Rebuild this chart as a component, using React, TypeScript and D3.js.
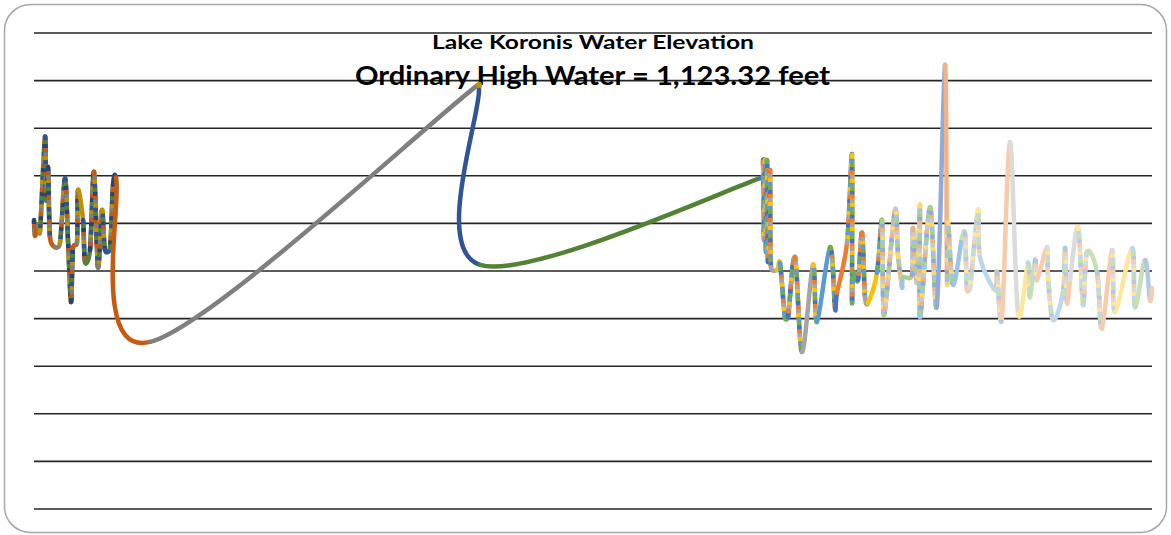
import React from "react";
import * as d3 from "d3";

// Time position (arbitrary sample axis, no labels shown in the reference)
const t = [
  0, 0.1, 0.4, 0.6, 1.1, 1.2, 1.4, 1.6, 2.1, 2.6, 3.1, 3.4, 3.7, 3.9, 4.3, 4.4, 4.9, 5.1, 5.6, 6.0, 6.4, 6.8, 7.1, 7.6, 7.9, 8.2,
  11.6, 44.4, 44.5, 44.6, 72.6,
  72.9, 73.0, 73.1, 73.2, 73.3, 73.4, 73.6, 73.7, 74.3, 74.6, 75.1, 75.4, 76.1, 76.8, 77.9, 78.3, 79.6, 80.1, 80.3, 81.3,
  81.8, 81.8, 81.9, 82.4, 82.8, 83.1, 83.4, 84.3, 84.8, 84.9, 85.1, 86.1, 86.4, 86.8, 86.9, 87.8, 87.9, 88.3, 88.6, 88.6,
  89.6, 90.3, 91.1, 91.3, 91.4, 91.9, 92.8, 93.1, 93.3, 93.6, 94.4, 94.6, 96.1, 96.3, 96.8, 97.6, 98.4, 99.4, 99.6, 100.1,
  100.3, 101.3, 101.4, 101.9, 102.9, 103.1, 103.3, 103.6, 104.4, 104.9, 105.3, 106.3, 106.8, 107.8, 108.1, 109.8, 110.1,
  111.1, 111.6, 111.8,
];

// Water elevation (feet)
const elevation = [
  1119.07, 1118.74, 1118.97, 1118.82, 1120.82, 1119.49, 1120.18, 1118.71, 1118.5, 1118.59, 1119.95, 1118.65, 1117.35,
  1118.5, 1118.59, 1119.7, 1119.07, 1118.19, 1118.44, 1120.08, 1118.08, 1119.28, 1118.44, 1118.48, 1119.81, 1119.97,
  1116.51, 1121.91, 1121.8, 1118.13, 1119.95,
  1120.29, 1118.65, 1120.33, 1118.4, 1120.33, 1118.19, 1120.12, 1118.08, 1118.02, 1118.17, 1117.01, 1117.03, 1118.29,
  1116.3, 1118.13, 1116.93, 1118.5, 1117.22, 1117.54, 1118.59, 1120.44, 1117.43, 1117.98, 1117.81, 1118.8, 1117.45,
  1117.33, 1117.96, 1119.07, 1117.54, 1117.18, 1119.28, 1118.34, 1117.66, 1117.87, 1117.92, 1118.9, 1117.75, 1119.39,
  1117.03, 1119.34, 1117.29, 1122.33, 1117.81, 1119.03, 1117.71, 1118.69, 1118.8, 1117.6, 1117.64, 1119.28, 1118.29,
  1117.6, 1117.98, 1117.03, 1120.71, 1117.12, 1118.17, 1117.45, 1118.23, 1117.81, 1118.5, 1117.87, 1116.97, 1117.54,
  1118.48, 1117.33, 1117.81, 1118.92, 1117.29, 1118.4, 1117.98, 1116.8, 1118.44, 1117.14, 1118.48, 1117.24, 1118.23,
  1117.39, 1117.64,
];

const gridValues = [1113, 1114, 1115, 1116, 1117, 1118, 1119, 1120, 1121, 1122, 1123];

const titleLine1 = "Lake Koronis Water Elevation";
const titleLine2 = "Ordinary High Water = 1,123.32 feet";

const PALETTES: Record<string, string[]> = {
  dark: ["#264478", "#C55A11", "#7F7F7F", "#BF9000", "#2F5597", "#548235"],
  base: ["#4472C4", "#ED7D31", "#A5A5A5", "#FFC000", "#5B9BD5", "#70AD47"],
  light: ["#8FAADC", "#F4B183", "#C9C9C9", "#FFD966", "#9DC3E6", "#A9D18E"],
  pale: ["#B4C7E7", "#F8CBAD", "#DBDBDB", "#FFE699", "#BDD7EE", "#C5E0B4"],
};

function generation(x: number) {
  if (x < 72.5) return "dark";
  if (x < 84.6) return "base";
  if (x < 92.0) return "light";
  return "pale";
}

const W = 1171;
const H = 535;

function clampVec(vx: number, vy: number, maxLen: number): [number, number] {
  const len = Math.hypot(vx, vy);
  if (len <= maxLen || len === 0) return [vx, vy];
  const s = maxLen / len;
  return [vx * s, vy * s];
}

export default function App() {
  const x = d3.scaleLinear().domain([0, 111.8]).range([34, 1152]);
  const y = d3.scaleLinear().domain([1113, 1123]).range([509, 33]);

  const pts = t.map((tv, i) => [x(tv), y(elevation[i])] as [number, number]);

  const segs: { d: string; color: string; stipple: string[] | null; key: number }[] = [];
  for (let i = 0; i < pts.length - 1; i++) {
    const p0 = pts[i - 1] || pts[i];
    const p1 = pts[i];
    const p2 = pts[i + 1];
    const p3 = pts[i + 2] || pts[i + 1];
    const chord = Math.hypot(p2[0] - p1[0], p2[1] - p1[1]);
    const o1 = clampVec((p2[0] - p0[0]) / 6, (p2[1] - p0[1]) / 6, chord * 0.8);
    const o2 = clampVec((p3[0] - p1[0]) / 6, (p3[1] - p1[1]) / 6, chord * 0.8);
    const path = d3.path();
    path.moveTo(p1[0], p1[1]);
    path.bezierCurveTo(p1[0] + o1[0], p1[1] + o1[1], p2[0] - o2[0], p2[1] - o2[1], p2[0], p2[1]);
    const pal = PALETTES[generation(t[i])];
    const dx = Math.abs(p2[0] - p1[0]);
    const dy = Math.abs(p2[1] - p1[1]);
    const steep = dy > 8 * dx && dy > 15 && dy < 150;
    const rot = i % 6;
    segs.push({
      d: path.toString(),
      color: pal[i % 6],
      stipple: steep ? pal.slice(rot).concat(pal.slice(0, rot)) : null,
      key: i,
    });
  }

  const dash = 4;
  const period = dash * 6;

  return (
    <svg
      width={W}
      height={H}
      style={{ position: "absolute", left: 0, top: 0, background: "#fff" }}
      xmlns="http://www.w3.org/2000/svg"
    >
      <rect x={4.5} y={4.5} width={1162} height={528} rx={26} ry={26} fill="#fff" stroke="#A6A6A6" strokeWidth={1.5} />
      {gridValues.map((g) => (
        <line key={g} x1={34} x2={1152} y1={y(g)} y2={y(g)} stroke="#262626" strokeWidth={1.6} />
      ))}
      <text
        x={593}
        y={49}
        textAnchor="middle"
        fontFamily="Lato, 'Open Sans', sans-serif"
        fontWeight="bold"
        fontSize={19}
        textLength={322}
        lengthAdjust="spacingAndGlyphs"
        fill="#000"
      >
        {titleLine1}
      </text>
      <text
        x={592.5}
        y={85}
        textAnchor="middle"
        fontFamily="Lato, 'Open Sans', sans-serif"
        fontWeight="bold"
        fontSize={26}
        textLength={475}
        lengthAdjust="spacingAndGlyphs"
        fill="#000"
      >
        {titleLine2}
      </text>
      <g fill="none" strokeWidth={4.5} strokeLinecap="round" strokeLinejoin="round">
        {segs.map((s) => (
          <g key={s.key}>
            <path d={s.d} stroke={s.color} />
            {s.stipple &&
              s.stipple.map((c, k) => (
                <path
                  key={k}
                  d={s.d}
                  stroke={c}
                  strokeLinecap="butt"
                  strokeDasharray={`${dash} ${period - dash}`}
                  strokeDashoffset={-k * dash}
                />
              ))}
          </g>
        ))}
      </g>
    </svg>
  );
}
